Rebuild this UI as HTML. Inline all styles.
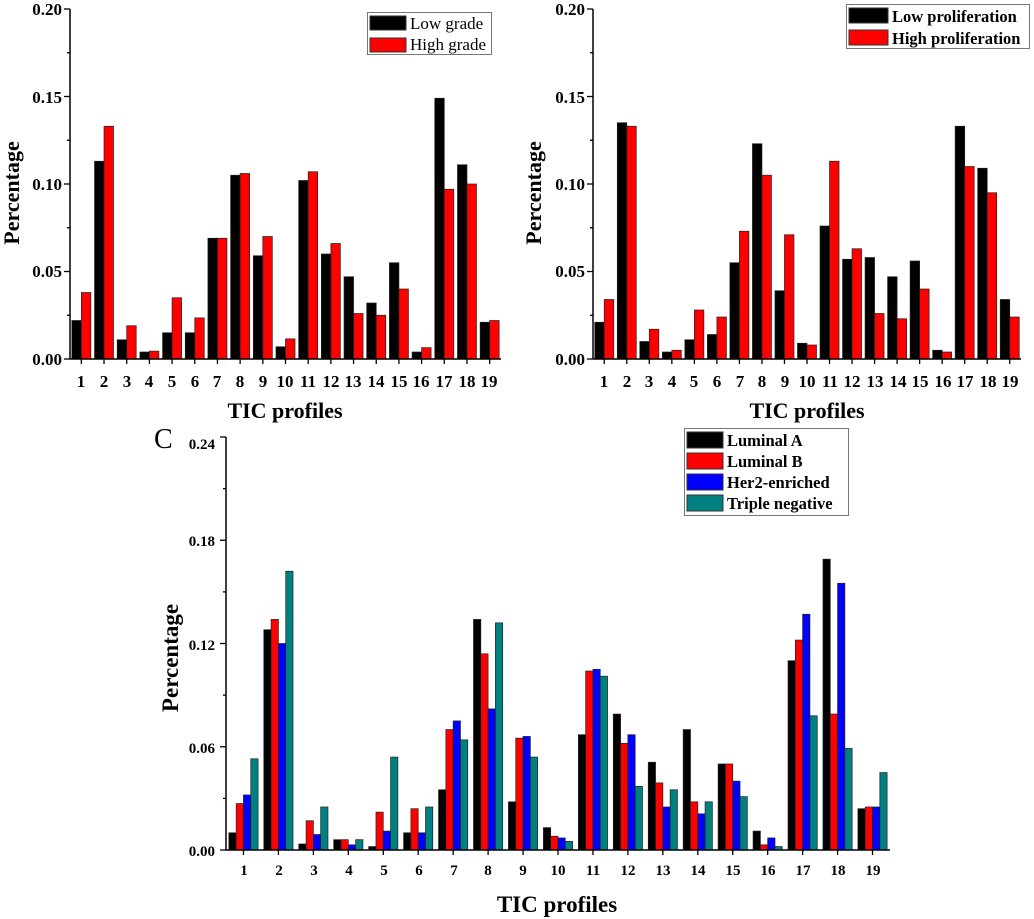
<!DOCTYPE html>
<html><head><meta charset="utf-8"><style>
html,body{margin:0;padding:0;background:#fff}
svg{display:block}
text{font-family:"Liberation Serif",serif;font-weight:bold;fill:#000}
</style></head><body>
<svg id="s" width="1034" height="919" viewBox="0 0 1034 919" xmlns="http://www.w3.org/2000/svg">
<g id="bars"></g>
<g font-size="17" text-anchor="end">
<text x="62" y="15">0.20</text><text x="62" y="103">0.15</text><text x="62" y="190">0.10</text><text x="62" y="277">0.05</text><text x="62" y="365">0.00</text>
</g>
<g font-size="17" text-anchor="middle">
<text x="81" y="387">1</text><text x="104" y="387">2</text><text x="127" y="387">3</text><text x="149" y="387">4</text><text x="172" y="387">5</text><text x="195" y="387">6</text><text x="217" y="387">7</text><text x="240" y="387">8</text><text x="263" y="387">9</text><text x="285" y="387">10</text><text x="308" y="387">11</text><text x="331" y="387">12</text><text x="353" y="387">13</text><text x="376" y="387">14</text><text x="399" y="387">15</text><text x="421" y="387">16</text><text x="444" y="387">17</text><text x="467" y="387">18</text><text x="489" y="387">19</text>
</g>
<text x="285" y="418" font-size="22" text-anchor="middle">TIC profiles</text>
<text transform="translate(19,193) rotate(-90)" font-size="22" text-anchor="middle">Percentage</text>
<rect x="367.5" y="12.5" width="124" height="42" fill="#fff" stroke="#777"/>
<rect x="370" y="16" width="36" height="14" fill="#000" stroke="#333"/>
<rect x="370" y="38" width="36" height="14" fill="#f00" stroke="#333"/>
<text x="410" y="29" font-size="17" style="font-weight:normal">Low grade</text>
<text x="410" y="50" font-size="17" style="font-weight:normal">High grade</text>
<g font-size="17" text-anchor="end">
<text x="585" y="15">0.20</text><text x="585" y="103">0.15</text><text x="585" y="190">0.10</text><text x="585" y="277">0.05</text><text x="585" y="365">0.00</text>
</g>
<g font-size="17" text-anchor="middle">
<text x="604" y="387">1</text><text x="627" y="387">2</text><text x="649" y="387">3</text><text x="672" y="387">4</text><text x="694" y="387">5</text><text x="717" y="387">6</text><text x="740" y="387">7</text><text x="762" y="387">8</text><text x="785" y="387">9</text><text x="807" y="387">10</text><text x="830" y="387">11</text><text x="852" y="387">12</text><text x="875" y="387">13</text><text x="898" y="387">14</text><text x="920" y="387">15</text><text x="943" y="387">16</text><text x="965" y="387">17</text><text x="988" y="387">18</text><text x="1010" y="387">19</text>
</g>
<text x="807" y="418" font-size="22" text-anchor="middle">TIC profiles</text>
<text transform="translate(541,193) rotate(-90)" font-size="22" text-anchor="middle">Percentage</text>
<rect x="846.5" y="4.5" width="183" height="44" fill="#fff" stroke="#777"/>
<rect x="849" y="8" width="39" height="15" fill="#000" stroke="#333"/>
<rect x="849" y="30" width="39" height="15" fill="#f00" stroke="#333"/>
<text x="892" y="22" font-size="16.5">Low proliferation</text>
<text x="892" y="44" font-size="16.5">High proliferation</text>
<text x="154" y="448" font-size="28" style="font-weight:normal">C</text>
<g font-size="15" text-anchor="end">
<text x="215" y="449">0.24</text><text x="215" y="546">0.18</text><text x="215" y="650">0.12</text><text x="215" y="753">0.06</text><text x="215" y="856">0.00</text>
</g>
<g font-size="15" text-anchor="middle">
<text x="244" y="875">1</text><text x="279" y="875">2</text><text x="314" y="875">3</text><text x="349" y="875">4</text><text x="384" y="875">5</text><text x="419" y="875">6</text><text x="454" y="875">7</text><text x="488" y="875">8</text><text x="523" y="875">9</text><text x="558" y="875">10</text><text x="593" y="875">11</text><text x="628" y="875">12</text><text x="663" y="875">13</text><text x="698" y="875">14</text><text x="733" y="875">15</text><text x="768" y="875">16</text><text x="803" y="875">17</text><text x="838" y="875">18</text><text x="873" y="875">19</text>
</g>
<text x="557" y="912" font-size="23" text-anchor="middle">TIC profiles</text>
<text transform="translate(178,658) rotate(-90)" font-size="23" text-anchor="middle">Percentage</text>
<rect x="684.5" y="428.5" width="164" height="87" fill="#fff" stroke="#777"/>
<rect x="687" y="432" width="36" height="16" fill="#000" stroke="#333"/>
<rect x="687" y="453" width="36" height="16" fill="#f00" stroke="#333"/>
<rect x="687" y="474" width="36" height="16" fill="#00f" stroke="#333"/>
<rect x="687" y="495" width="36" height="16" fill="#008080" stroke="#333"/>
<text x="727" y="446" font-size="16.5">Luminal A</text>
<text x="727" y="467" font-size="16.5">Luminal B</text>
<text x="727" y="488" font-size="16.5">Her2-enriched</text>
<text x="727" y="509" font-size="16.5">Triple negative</text>
</svg>
<script>
var NS="http://www.w3.org/2000/svg",g=document.getElementById("bars");
function el(t,a){var e=document.createElementNS(NS,t);for(var k in a)e.setAttribute(k,a[k]);g.appendChild(e);return e;}
function chart(o){
 var gw=(o.x1-o.x0)/19, n=o.series.length, bw=o.bw, sc=(o.y0-o.yt)/o.max;
 for(var i=0;i<19;i++){var c=o.x0+gw*(i+0.5),st=c-n*bw/2;
  for(var s=0;s<n;s++){var v=o.series[s][i],h=v*sc;
   el("rect",{x:st+s*bw,y:o.y0-h,width:bw,height:h,fill:o.colors[s],stroke:"#222","stroke-width":0.7});}
  el("line",{x1:c,x2:c,y1:o.y0,y2:o.y0+5,stroke:"#000","stroke-width":1.3});}
 el("line",{x1:o.x0,x2:o.x0,y1:o.yt,y2:o.y0,stroke:"#000","stroke-width":1.5});
 el("line",{x1:o.x0,x2:o.x1,y1:o.y0,y2:o.y0,stroke:"#000","stroke-width":1.5});
 for(var k=0;k<=o.nt*2;k++){var y=o.y0-(o.y0-o.yt)*k/(o.nt*2);
  el("line",{x1:o.x0-(k%2?3:6),x2:o.x0,y1:y,y2:y,stroke:"#000","stroke-width":1.3});}
}
chart({x0:70,x1:501,yt:9,y0:359,max:0.2,nt:4,bw:9.5,colors:["#000","#f00"],series:[
[.022,.113,.011,.004,.015,.015,.069,.105,.059,.007,.102,.060,.047,.032,.055,.004,.149,.111,.021],
[.038,.133,.019,.0045,.035,.0235,.069,.106,.070,.0115,.107,.066,.026,.025,.040,.0065,.097,.100,.022]]});
chart({x0:593,x1:1021,yt:9,y0:359,max:0.2,nt:4,bw:9.5,colors:["#000","#f00"],series:[
[.021,.135,.010,.004,.011,.014,.055,.123,.039,.009,.076,.057,.058,.047,.056,.005,.133,.109,.034],
[.034,.133,.017,.005,.028,.024,.073,.105,.071,.008,.113,.063,.026,.023,.040,.004,.110,.095,.024]]});
chart({x0:226,x1:890,yt:437,y0:850,max:0.24,nt:4,bw:7.3,colors:["#000","#f00","#00f","#008080"],series:[
[.010,.128,.0035,.006,.002,.010,.035,.134,.028,.013,.067,.079,.051,.070,.050,.011,.110,.169,.024],
[.027,.134,.017,.006,.022,.024,.070,.114,.065,.008,.104,.062,.039,.028,.050,.003,.122,.079,.025],
[.032,.120,.009,.003,.011,.010,.075,.082,.066,.007,.105,.067,.025,.021,.040,.007,.137,.155,.025],
[.053,.162,.025,.006,.054,.025,.064,.132,.054,.005,.101,.037,.035,.028,.031,.002,.078,.059,.045]]});
</script>
</body></html>
